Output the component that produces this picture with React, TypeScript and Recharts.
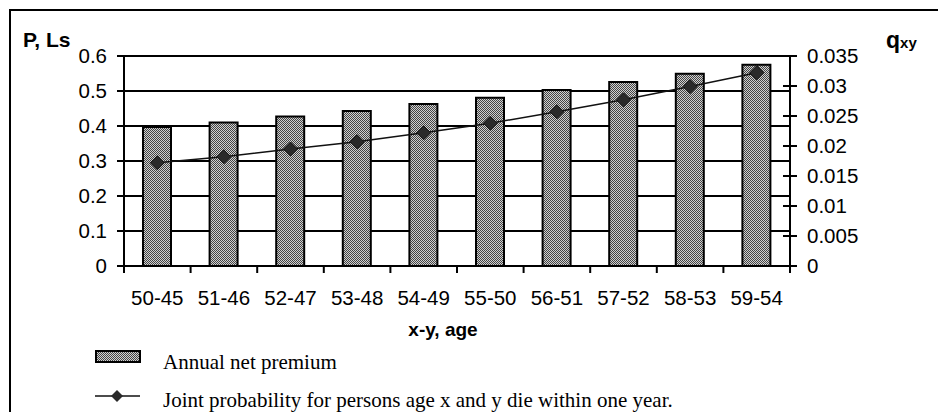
import { ComposedChart, Bar, Line, XAxis, YAxis, CartesianGrid, Legend, Label } from "recharts";

const categories = ["50-45", "51-46", "52-47", "53-48", "54-49", "55-50", "56-51", "57-52", "58-53", "59-54"];
const premium = [0.397, 0.41, 0.427, 0.443, 0.463, 0.481, 0.503, 0.526, 0.549, 0.575];
const qxy = [0.0172, 0.0182, 0.0195, 0.0207, 0.0222, 0.0238, 0.0257, 0.0277, 0.0299, 0.0322];
const leftTicks = [0, 0.1, 0.2, 0.3, 0.4, 0.5, 0.6];
const rightTicks = [0, 0.005, 0.01, 0.015, 0.02, 0.025, 0.03, 0.035];

const data = categories.map((c, i) => ({ name: c, premium: premium[i], q: qxy[i] }));

const W = 938;
const H = 412;
const LEFT_W = 124;
const RIGHT_W = 148;
const PLOT_W = W - LEFT_W - RIGHT_W;
const BAND = PLOT_W / categories.length;
const SANS = "'Liberation Sans', Arial, sans-serif";
const SERIF = "'Liberation Serif', 'Times New Roman', serif";

function XTick(props: any) {
  const { x, y, payload, index } = props;
  return (
    <g>
      <line x1={x - BAND / 2} x2={x - BAND / 2} y1={y} y2={y + 7} stroke="#000" strokeWidth={2} />
      {index === categories.length - 1 && (
        <line x1={x + BAND / 2} x2={x + BAND / 2} y1={y} y2={y + 7} stroke="#000" strokeWidth={2} />
      )}
      <text x={x} y={y + 39} textAnchor="middle" fontFamily={SANS} fontSize={20.5} fill="#000">
        {payload.value}
      </text>
    </g>
  );
}

function RightTick(props: any) {
  const { x, y, payload } = props;
  return (
    <g>
      <line x1={x - 7} x2={x + 7} y1={y} y2={y} stroke="#000" strokeWidth={2} />
      <text x={x + 17} y={y + 7} fontFamily={SANS} fontSize={20.5} fill="#000">
        {payload.value}
      </text>
    </g>
  );
}

function Diamond(props: any) {
  const { cx, cy, index } = props;
  const r = 7;
  return (
    <path
      key={index}
      d={`M${cx},${cy - r}L${cx + r},${cy}L${cx},${cy + r}L${cx - r},${cy}Z`}
      fill="#2a2a2a"
      stroke="#111"
      strokeWidth={1}
    />
  );
}

function LegendBox() {
  return (
    <svg width={720} height={66} style={{ display: "block" }}>
      <defs>
        <pattern id="hatchLegend" width={2} height={2} patternUnits="userSpaceOnUse">
          <rect width={2} height={2} fill="#d0d0d0" />
          <rect width={1} height={1} fill="#444" />
          <rect x={1} y={1} width={1} height={1} fill="#444" />
        </pattern>
      </defs>
      <rect x={96} y={5} width={44} height={11} fill="url(#hatchLegend)" stroke="#000" strokeWidth={2} />
      <text x={163} y={23} fontFamily={SERIF} fontSize={21} fill="#000">Annual net premium</text>
      <line x1={95} x2={140} y1={50} y2={50} stroke="#111" strokeWidth={1.5} />
      <path d="M117,44L123,50L117,56L111,50Z" fill="#2a2a2a" />
      <text x={163} y={61} fontFamily={SERIF} fontSize={21} fill="#000">
        Joint probability for persons age x and y die within one year.
      </text>
    </svg>
  );
}

export default function App() {
  return (
    <div style={{ position: "absolute", left: 0, top: 0, width: W, height: H, overflow: "hidden", background: "#fff" }}>
      <div style={{ position: "absolute", left: 9, top: 9, width: 1200, height: 1000, border: "2px solid #000" }} />
      <div style={{ position: "absolute", left: 0, top: 0 }}>
        <ComposedChart width={W} height={H} data={data} margin={{ top: 56, right: 0, bottom: 0, left: 0 }}>
          <defs>
            <pattern id="hatch" width={2} height={2} patternUnits="userSpaceOnUse">
              <rect width={2} height={2} fill="#d0d0d0" />
              <rect width={1} height={1} fill="#444" />
              <rect x={1} y={1} width={1} height={1} fill="#444" />
            </pattern>
          </defs>
          <CartesianGrid yAxisId="left" horizontal vertical={false} stroke="#000" strokeWidth={2} />
          <XAxis
            dataKey="name"
            height={80}
            tickSize={0}
            tickMargin={0}
            tickLine={false}
            axisLine={{ stroke: "#000", strokeWidth: 2 }}
            tick={<XTick />}
            interval={0}
          >
            <Label
              content={(p: any) => (
                <text
                  x={p.viewBox.x + p.viewBox.width / 2 - 14}
                  y={p.viewBox.y + 70}
                  textAnchor="middle"
                  fontFamily={SANS}
                  fontWeight="bold"
                  fontSize={19}
                  fill="#000"
                >
                  x-y, age
                </text>
              )}
            />
          </XAxis>
          <YAxis
            yAxisId="left"
            width={LEFT_W}
            domain={[0, 0.6]}
            ticks={leftTicks}
            tickSize={7}
            tickMargin={10}
            tick={{ fontFamily: SANS, fontSize: 20.5, fill: "#000" }}
            tickLine={{ stroke: "#000", strokeWidth: 2 }}
            axisLine={{ stroke: "#000", strokeWidth: 2 }}
          >
            <Label
              content={(p: any) => (
                <text x={p.viewBox.x + 23} y={p.viewBox.y - 9} fontFamily={SANS} fontWeight="bold" fontSize={21} fill="#000">
                  P, Ls
                </text>
              )}
            />
          </YAxis>
          <YAxis
            yAxisId="right"
            orientation="right"
            width={RIGHT_W}
            domain={[0, 0.035]}
            ticks={rightTicks}
            tickSize={0}
            tickMargin={0}
            tickLine={false}
            tick={<RightTick />}
            axisLine={{ stroke: "#000", strokeWidth: 2 }}
          >
            <Label
              content={(p: any) => (
                <text x={p.viewBox.x + 96} y={p.viewBox.y - 8} fontFamily={SANS} fontWeight="bold" fill="#000">
                  <tspan fontSize={23}>q</tspan>
                  <tspan fontSize={15}>xy</tspan>
                </text>
              )}
            />
          </YAxis>
          <Legend verticalAlign="bottom" align="left" height={66} content={() => <LegendBox />} wrapperStyle={{ left: 0 }} />
          <Bar
            yAxisId="left"
            dataKey="premium"
            name="Annual net premium"
            barSize={28}
            fill="url(#hatch)"
            stroke="#000"
            strokeWidth={2}
            isAnimationActive={false}
          />
          <Line
            yAxisId="right"
            dataKey="q"
            name="Joint probability"
            type="linear"
            stroke="#111"
            strokeWidth={1.5}
            dot={<Diamond />}
            activeDot={false}
            isAnimationActive={false}
          />
        </ComposedChart>
      </div>
    </div>
  );
}
